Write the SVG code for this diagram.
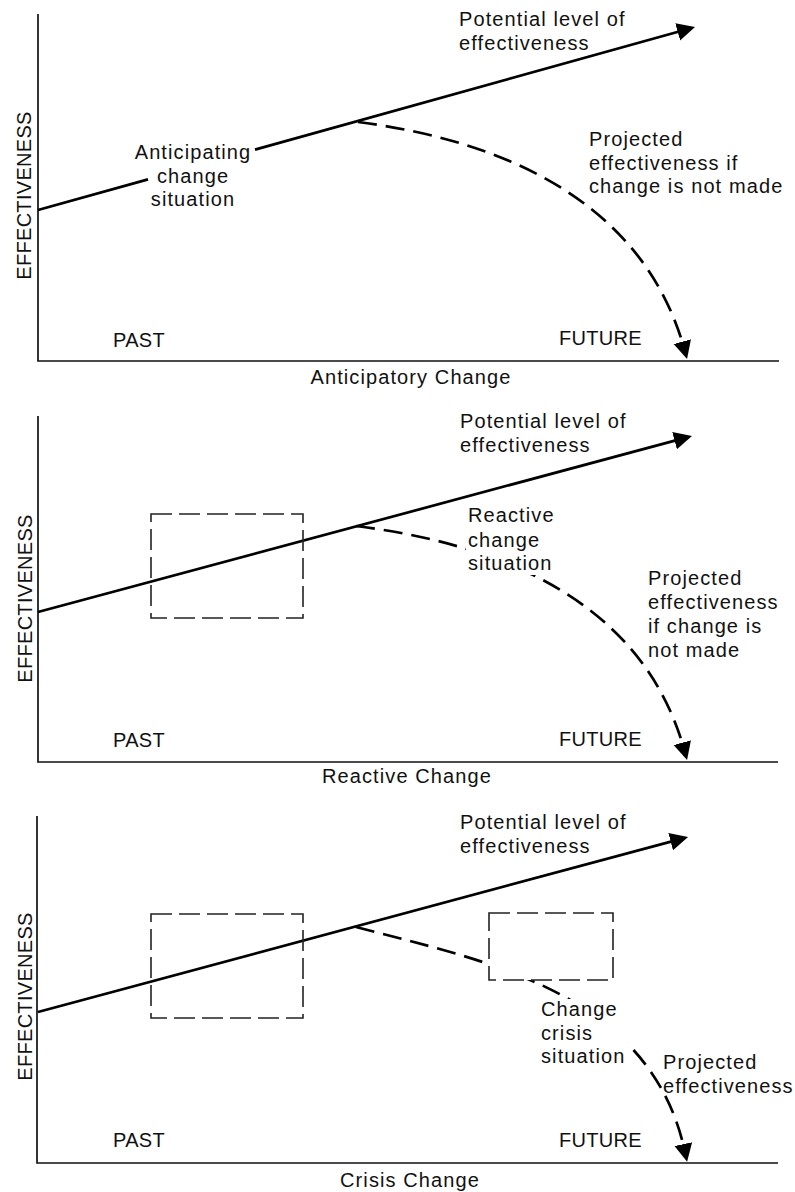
<svg xmlns="http://www.w3.org/2000/svg" width="795" height="1192" viewBox="0 0 795 1192">
  <style>
    .axis { fill: none; stroke: #111; stroke-width: 1.7; }
    .trend { fill: none; stroke: #000; stroke-width: 2.7; }
    .proj { fill: none; stroke: #000; stroke-width: 2.7; stroke-dasharray: 19 9; }
    .zone { fill: none; stroke: #222; stroke-width: 1.6; stroke-dasharray: 21 7; }
    text { font-family: "Liberation Sans", Arial, sans-serif; font-size: 20px; fill: #111; }
    .lbl { letter-spacing: 1.1px; }
    .caps { letter-spacing: 0.3px; }
    .mid { text-anchor: middle; }
  </style>
  <defs>
    <!-- tip sits 10 units beyond the end of the stroke -->
    <marker id="head" markerUnits="userSpaceOnUse" markerWidth="20" markerHeight="20" refX="8" refY="10" orient="auto">
      <path d="M0,1 L18,10 L0,19 Z" fill="#000"/>
    </marker>
    <!-- knock-outs so the projected curve passes behind labels and zones -->
    <mask id="gap-reactive" maskUnits="userSpaceOnUse" x="0" y="0" width="795" height="400">
      <rect x="0" y="0" width="795" height="400" fill="#fff"/>
      <rect x="466" y="105" width="90" height="69" fill="#000"/>
    </mask>
    <mask id="gap-crisis" maskUnits="userSpaceOnUse" x="0" y="0" width="795" height="400">
      <rect x="0" y="0" width="795" height="400" fill="#fff"/>
      <rect x="489" y="111" width="124" height="67" fill="#000"/>
      <rect x="537" y="197" width="91" height="69" fill="#000"/>
    </mask>
  </defs>

  <!-- Anticipatory change -->
  <g id="panel-anticipatory">
    <path class="axis" d="M38,14 V361 H779"/>
    <g id="connectors-anticipatory">
      <path class="trend" d="M38,210 L148,179.4 M255,149.6 L685.4,29.7" marker-end="url(#head)"/>
      <path class="proj" d="M358,122 C500,140 643,200 684.4,349.4" marker-end="url(#head)"/>
    </g>
    <g id="label-potential-1">
      <text class="lbl" x="459" y="26">Potential level of</text>
      <text class="lbl" x="459" y="50">effectiveness</text>
    </g>
    <g id="label-anticipating">
      <text class="lbl mid" x="193" y="159">Anticipating</text>
      <text class="lbl mid" x="193" y="183">change</text>
      <text class="lbl mid" x="193" y="206">situation</text>
    </g>
    <g id="label-projected-1">
      <text class="lbl" x="589" y="146">Projected</text>
      <text class="lbl" x="589" y="170">effectiveness if</text>
      <text class="lbl" x="589" y="193">change is not made</text>
    </g>
    <text class="caps" transform="translate(31,195.5) rotate(-90)" text-anchor="middle">EFFECTIVENESS</text>
    <text class="caps" x="113" y="347">PAST</text>
    <text class="caps" x="559" y="345">FUTURE</text>
    <text class="lbl mid" x="411" y="384">Anticipatory Change</text>
  </g>

  <!-- Reactive change -->
  <g id="panel-reactive" transform="translate(0,401)">
    <path class="axis" d="M38,15 V361 H778"/>
    <g id="connectors-reactive">
      <path class="trend" d="M38,211 L682.3,37.6" marker-end="url(#head)"/>
      <path class="proj" d="M356,125 C500,143 643,200 684.4,349.4" marker-end="url(#head)" mask="url(#gap-reactive)"/>
    </g>
    <rect id="zone-past-2" class="zone" x="151" y="113" width="152" height="104"/>
    <g id="label-potential-2">
      <text class="lbl" x="460" y="27">Potential level of</text>
      <text class="lbl" x="460" y="51">effectiveness</text>
    </g>
    <g id="label-reactive">
      <text class="lbl" x="468" y="121">Reactive</text>
      <text class="lbl" x="468" y="146">change</text>
      <text class="lbl" x="468" y="169">situation</text>
    </g>
    <g id="label-projected-2">
      <text class="lbl" x="648" y="184">Projected</text>
      <text class="lbl" x="648" y="208">effectiveness</text>
      <text class="lbl" x="648" y="232">if change is</text>
      <text class="lbl" x="648" y="256">not made</text>
    </g>
    <text class="caps" transform="translate(32,197.5) rotate(-90)" text-anchor="middle">EFFECTIVENESS</text>
    <text class="caps" x="113" y="346">PAST</text>
    <text class="caps" x="559" y="345">FUTURE</text>
    <text class="lbl mid" x="407" y="382">Reactive Change</text>
  </g>

  <!-- Crisis change -->
  <g id="panel-crisis" transform="translate(0,802)">
    <path class="axis" d="M37,14 V361 H778"/>
    <g id="connectors-crisis">
      <path class="trend" d="M38,210 L678.4,37.6" marker-end="url(#head)"/>
      <path class="proj" d="M356,125 C480,158 650,188 685,350" marker-end="url(#head)" mask="url(#gap-crisis)"/>
    </g>
    <rect id="zone-past-3" class="zone" x="151" y="112" width="152" height="104"/>
    <rect id="zone-crisis" class="zone" x="489" y="111" width="124" height="67"/>
    <g id="label-potential-3">
      <text class="lbl" x="460" y="27">Potential level of</text>
      <text class="lbl" x="460" y="51">effectiveness</text>
    </g>
    <g id="label-crisis">
      <text class="lbl" x="541" y="214">Change</text>
      <text class="lbl" x="541" y="238">crisis</text>
      <text class="lbl" x="541" y="261">situation</text>
    </g>
    <g id="label-projected-3">
      <text class="lbl" x="663" y="267">Projected</text>
      <text class="lbl" x="663" y="291">effectiveness</text>
    </g>
    <text class="caps" transform="translate(32,194.5) rotate(-90)" text-anchor="middle">EFFECTIVENESS</text>
    <text class="caps" x="113" y="345">PAST</text>
    <text class="caps" x="559" y="345">FUTURE</text>
    <text class="lbl mid" x="410" y="385">Crisis Change</text>
  </g>
</svg>
